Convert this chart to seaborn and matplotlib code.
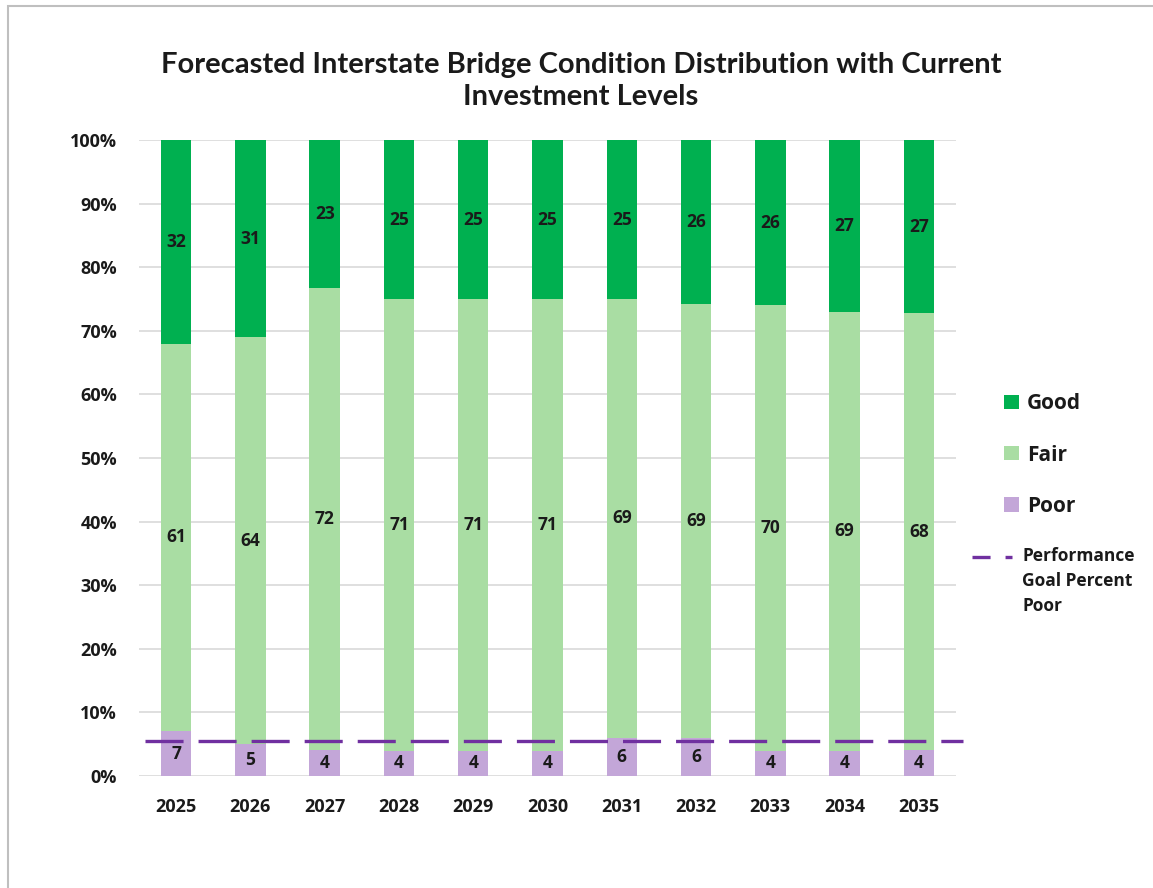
import numpy as np
import pandas as pd
import matplotlib
matplotlib.use("Agg")
import matplotlib.pyplot as plt
import seaborn as sns
from matplotlib.patches import Rectangle
from matplotlib.lines import Line2D
from matplotlib.legend_handler import HandlerBase

# ---------------- data ----------------
years = ["2025", "2026", "2027", "2028", "2029", "2030", "2031", "2032", "2033", "2034", "2035"]
good = [32, 31, 23, 25, 25, 25, 25, 26, 26, 27, 27]
fair = [61, 64, 72, 71, 71, 71, 69, 69, 70, 69, 68]
poor = [7, 5, 4, 4, 4, 4, 6, 6, 4, 4, 4]
goal_poor = 5.5
y_ticks = [0, 10, 20, 30, 40, 50, 60, 70, 80, 90, 100]

title = "Forecasted Interstate Bridge Condition Distribution with Current\nInvestment Levels"

# ---------------- styling ----------------
C_GOOD = "#00B050"
C_FAIR = "#A9DDA3"
C_POOR = "#C3A6D8"
C_GOAL = "#7030A0"
TXT = "#1a1a1a"

sns.set_theme(style="white")
plt.rcParams["font.family"] = ["Open Sans", "DejaVu Sans"]
plt.rcParams["lines.scale_dashes"] = False

df = pd.DataFrame({"year": years, "good": good, "fair": fair, "poor": poor})
total = df[["good", "fair", "poor"]].sum(axis=1)
df["poor_pct"] = df["poor"] / total * 100
df["fair_pct"] = df["fair"] / total * 100
df["good_pct"] = df["good"] / total * 100
df["top_good"] = df["poor_pct"] + df["fair_pct"] + df["good_pct"]
df["top_fair"] = df["poor_pct"] + df["fair_pct"]
df["top_poor"] = df["poor_pct"]

W, H = 1153, 888
fig = plt.figure(figsize=(W / 100, H / 100), dpi=100)
ax = fig.add_axes([139 / W, 1 - 776 / H, (956 - 139) / W, (776 - 140) / H])

bw = 0.41
sns.barplot(data=df, x="year", y="top_good", color=C_GOOD, saturation=1, width=bw, ax=ax, zorder=2)
sns.barplot(data=df, x="year", y="top_fair", color=C_FAIR, saturation=1, width=bw, ax=ax, zorder=2)
sns.barplot(data=df, x="year", y="top_poor", color=C_POOR, saturation=1, width=bw, ax=ax, zorder=2)
for p in ax.patches:
    p.set_edgecolor("none")

# segment labels
lab_kw = dict(ha="center", va="center", fontsize=12.5, fontweight="bold", color=TXT, zorder=5)
for i, r in df.iterrows():
    ax.text(i, r["top_poor"] / 2, str(r["poor"]), **lab_kw)
    ax.text(i, (r["top_poor"] + r["top_fair"]) / 2, str(r["fair"]), **lab_kw)
    ax.text(i, (r["top_fair"] + r["top_good"]) / 2, str(r["good"]), **lab_kw)

# goal line
goal_line = ax.axhline(goal_poor, xmin=0.007, xmax=1.009, color=C_GOAL, lw=2.4, clip_on=False, zorder=4)
goal_line.set_dashes((27.4, 10.8))

ax.set_xlim(-0.5, len(years) - 0.5)
ax.set_ylim(0, 100)
ax.set_yticks(y_ticks)
ax.set_yticklabels([f"{t}%" for t in y_ticks])
ax.yaxis.grid(True, color="#D9D9D9", lw=1.2, zorder=0)
ax.set_axisbelow(True)
for s in ax.spines.values():
    s.set_visible(False)
ax.set_xlabel("")
ax.set_ylabel("")
ax.tick_params(axis="y", length=0, pad=16, labelsize=13, labelcolor=TXT)
ax.tick_params(axis="x", length=0, pad=16, labelsize=13, labelcolor=TXT)
for t in ax.get_xticklabels() + ax.get_yticklabels():
    t.set_fontweight("bold")

# title
fig.text(581 / W, 1 - 81 / H, title, ha="center", va="center", fontsize=21,
         fontweight="bold", family=["Lato", "DejaVu Sans"], color=TXT, linespacing=1.33)


# legend handlers
class SquareHandler(HandlerBase):
    def create_artists(self, legend, orig_handle, xdescent, ydescent, width, height, fontsize, trans):
        s = 10.5
        r = Rectangle((width - xdescent - s, -ydescent + height / 2 - s / 2), s, s,
                      facecolor=orig_handle.get_facecolor(), edgecolor="none", transform=trans)
        return [r]


class GoalHandler(HandlerBase):
    def create_artists(self, legend, orig_handle, xdescent, ydescent, width, height, fontsize, trans):
        yy = -ydescent + height / 2 + 18
        l = Line2D([-xdescent, width - xdescent], [yy, yy], color=C_GOAL, lw=2.4, transform=trans)
        l.set_dashes((13.0, 10.8))
        return [l]


sq_handles = [Rectangle((0, 0), 1, 1, facecolor=c) for c in (C_GOOD, C_FAIR, C_POOR)]
leg1 = ax.legend(sq_handles, ["Good", "Fair", "Poor"], handler_map={Rectangle: SquareHandler()},
                 loc="center left", bbox_to_anchor=(1002 / W, 1 - 455 / H), bbox_transform=fig.transFigure,
                 frameon=False, fontsize=15, handlelength=0.8, handletextpad=0.4, labelspacing=1.45,
                 borderpad=0, borderaxespad=0)
for t in leg1.get_texts():
    t.set_fontweight("bold")
    t.set_color(TXT)
ax.add_artist(leg1)

goal_handle = Line2D([0], [0], color=C_GOAL)
leg2 = ax.legend([goal_handle], ["Performance\nGoal Percent\nPoor"], handler_map={Line2D: GoalHandler()},
                 loc="center left", bbox_to_anchor=(972 / W, 1 - 581 / H), bbox_transform=fig.transFigure,
                 frameon=False, fontsize=12.5, handlelength=2.3, handletextpad=0.6,
                 borderpad=0, borderaxespad=0)
for t in leg2.get_texts():
    t.set_fontweight("bold")
    t.set_color(TXT)
    t.set_linespacing(1.5)

# image border
fig.patches.append(Rectangle((8 / W, -0.01), 1.02, 1 - 6 / H + 0.01, transform=fig.transFigure,
                             fill=False, edgecolor="#BFBFBF", lw=1.5))

fig.savefig("out.png", dpi=100, facecolor="white")
